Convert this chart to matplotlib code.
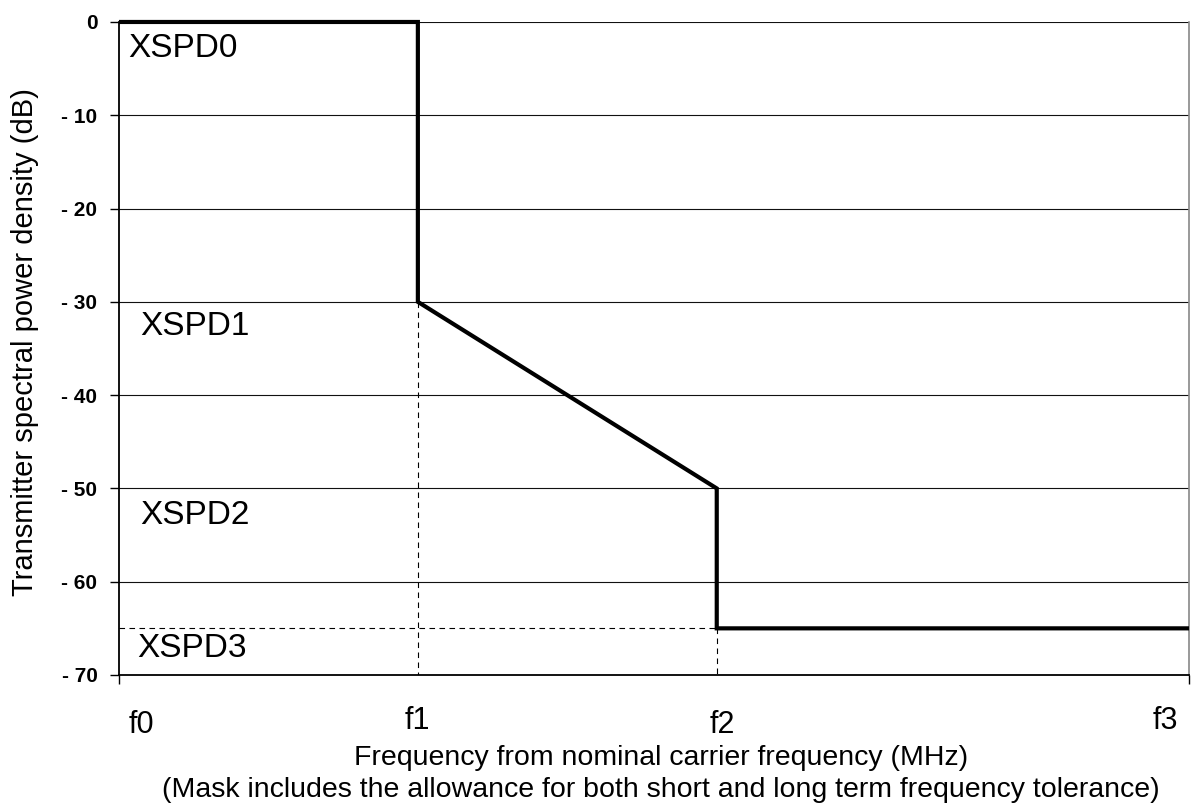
import matplotlib.pyplot as plt

plt.rcParams['font.family'] = ['Liberation Sans', 'DejaVu Sans']

# mask break points (x in units of the f-markers, y in dB)
f_names = ['f0', 'f1', 'f2', 'f3']
f_pos = [0.0, 1.0, 2.0, 3.58]
mask_x = [0.0, 1.0, 1.0, 2.0, 2.0, 3.58]
mask_y = [0, 0, -30, -50, -65, -65]
xspd_names = ['XSPD0', 'XSPD1', 'XSPD2', 'XSPD3']
xspd_levels = [0, -30, -50, -65]
y_ticks = [0, -10, -20, -30, -40, -50, -60, -70]
y_ticklabels = ['0', '- 10', '- 20', '- 30', '- 40', '- 50', '- 60', '- 70']

fig = plt.figure(figsize=(11.97, 8.05), dpi=100)
ax = fig.add_axes([0.0994, 0.1615, 0.8939, 0.8112])

ax.set_xlim(f_pos[0], f_pos[-1])
ax.set_ylim(-70, 0)

for y in y_ticks[:-1]:
    ax.axhline(y, color='#111111', lw=0.8, zorder=1)

# dashed guide lines
dash = (0, (5, 4))
ax.plot([f_pos[1], f_pos[1]], [xspd_levels[1], -70], ls=dash, color='black', lw=0.8)
ax.plot([f_pos[2], f_pos[2]], [xspd_levels[3], -70], ls=dash, color='black', lw=0.8)
ax.plot([f_pos[0], f_pos[2]], [xspd_levels[3], xspd_levels[3]], ls=dash, color='black', lw=0.8)

ax.plot(mask_x, mask_y, color='black', lw=3, solid_joinstyle='miter',
        solid_capstyle='butt', zorder=3, clip_on=False)

ax.set_yticks(y_ticks)
ax.set_yticklabels(y_ticklabels, fontsize=15, fontweight='bold')
ax.set_xticks([f_pos[0], f_pos[-1]])
ax.set_xticklabels([])
ax.tick_params(axis='y', direction='out', length=6.5, width=1, pad=9)
ax.tick_params(axis='x', direction='out', length=6.5, width=1)

for s in ['left', 'bottom']:
    ax.spines[s].set_linewidth(1.3)
ax.spines['top'].set_visible(False)
ax.spines['right'].set_color('#888888')
ax.spines['right'].set_linewidth(1.2)

# level labels
label_offsets = [(0.03, -2.8), (0.07, -2.6), (0.07, -2.9), (0.06, -2.2)]
for name, lvl, (dx, dy) in zip(xspd_names, xspd_levels, label_offsets):
    ax.text(f_pos[0] + dx, lvl + dy, name, fontsize=24, va='center', ha='left')

# frequency marker labels
f_text_x = [0.074, 1.0, 2.02, 3.50]
f_text_y = [-76.2, -75.8, -76.2, -75.8]
for name, x, y in zip(f_names, f_text_x, f_text_y):
    ax.text(x, y, name, fontsize=22, ha='center', va='baseline', clip_on=False)

fig.text(0.552, 0.0497, 'Frequency from nominal carrier frequency (MHz)', fontsize=20.5,
         ha='center', va='baseline')
fig.text(0.552, 0.0105, '(Mask includes the allowance for both short and long term frequency tolerance)',
         fontsize=20.5, ha='center', va='baseline')
fig.text(0.021, 0.575, 'Transmitter spectral power density (dB)', fontsize=21,
         rotation=90, ha='center', va='center')

fig.savefig('out.png', dpi=100)
